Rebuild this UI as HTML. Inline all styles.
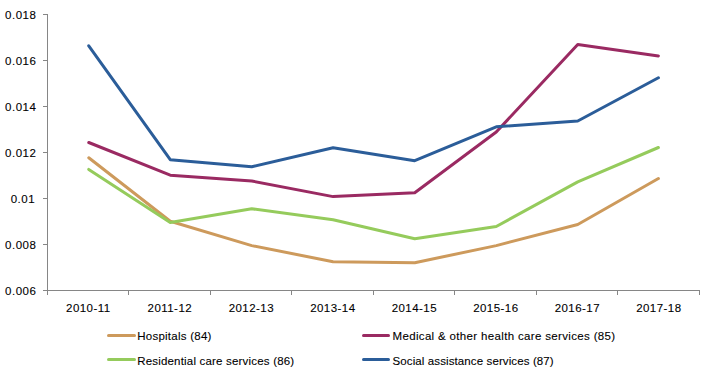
<!DOCTYPE html>
<html><head><meta charset="utf-8"><style>
html,body{margin:0;padding:0;background:#fff;}
body{width:718px;height:378px;position:relative;overflow:hidden;font-family:"Liberation Sans",sans-serif;color:#000;-webkit-text-stroke:0.1px #000;}
svg{position:absolute;left:0;top:0;}
.yl{position:absolute;left:0;width:37.5px;text-align:right;font-size:11.5px;letter-spacing:0.5px;line-height:14px;white-space:nowrap;}
.xl{position:absolute;top:300.6px;width:80px;text-align:center;font-size:11.5px;letter-spacing:0.45px;line-height:14px;white-space:nowrap;}
.lg{position:absolute;font-size:11.5px;line-height:14px;white-space:nowrap;}
</style></head><body>
<svg width="718" height="378" viewBox="0 0 718 378">
<path d="M47.5 14 V295" stroke="#868686" stroke-width="1" fill="none"/>
<path d="M43 14.5 H47.5" stroke="#868686" stroke-width="1"/>
<path d="M43 60.5 H47.5" stroke="#868686" stroke-width="1"/>
<path d="M43 106.5 H47.5" stroke="#868686" stroke-width="1"/>
<path d="M43 152.5 H47.5" stroke="#868686" stroke-width="1"/>
<path d="M43 198.5 H47.5" stroke="#868686" stroke-width="1"/>
<path d="M43 244.5 H47.5" stroke="#868686" stroke-width="1"/>
<path d="M43 290.5 H47.5" stroke="#868686" stroke-width="1"/>
<path d="M43 290.5 H699.5" stroke="#868686" stroke-width="1"/>
<path d="M47.5 290 V295" stroke="#868686" stroke-width="1"/>
<path d="M128.5 290 V295" stroke="#868686" stroke-width="1"/>
<path d="M210.5 290 V295" stroke="#868686" stroke-width="1"/>
<path d="M291.5 290 V295" stroke="#868686" stroke-width="1"/>
<path d="M373.5 290 V295" stroke="#868686" stroke-width="1"/>
<path d="M454.5 290 V295" stroke="#868686" stroke-width="1"/>
<path d="M536.5 290 V295" stroke="#868686" stroke-width="1"/>
<path d="M617.5 290 V295" stroke="#868686" stroke-width="1"/>
<path d="M699.5 290 V295" stroke="#868686" stroke-width="1"/>
<path d="M88.75 157.80 L170.25 221.30 L251.75 245.60 L333.10 261.70 L414.75 262.70 L496.25 245.60 L577.75 224.50 L658.40 178.50" stroke="#CD9A5C" stroke-width="3" fill="none" stroke-linejoin="round" stroke-linecap="round"/>
<path d="M88.75 169.40 L170.25 222.50 L251.75 208.80 L333.10 219.70 L414.75 238.70 L496.25 226.50 L577.75 181.90 L658.40 147.50" stroke="#95CB5C" stroke-width="3" fill="none" stroke-linejoin="round" stroke-linecap="round"/>
<path d="M88.75 142.50 L170.25 175.20 L251.75 181.00 L333.10 196.60 L414.75 192.70 L496.25 132.00 L577.75 44.60 L658.40 55.90" stroke="#9A2A62" stroke-width="3" fill="none" stroke-linejoin="round" stroke-linecap="round"/>
<path d="M88.75 45.80 L170.25 159.70 L251.75 166.80 L333.10 147.70 L414.75 160.70 L496.25 126.80 L577.75 121.00 L658.40 77.80" stroke="#2B5D99" stroke-width="3" fill="none" stroke-linejoin="round" stroke-linecap="round"/>
<path d="M108.5 335.5 H134.5" stroke="#CD9A5C" stroke-width="3" stroke-linecap="round"/>
<path d="M363.5 335.5 H388.5" stroke="#9A2A62" stroke-width="3" stroke-linecap="round"/>
<path d="M108.5 359.5 H134.5" stroke="#95CB5C" stroke-width="3" stroke-linecap="round"/>
<path d="M363.5 359.5 H388.5" stroke="#2B5D99" stroke-width="3" stroke-linecap="round"/>
</svg>
<div class="yl" style="top:8px;width:36.4px">0.018</div>
<div class="yl" style="top:54px;width:36.4px">0.016</div>
<div class="yl" style="top:100px;width:36.4px">0.014</div>
<div class="yl" style="top:146px;width:36.4px">0.012</div>
<div class="yl" style="top:192px;width:35.1px">0.01</div>
<div class="yl" style="top:238px;width:36.4px">0.008</div>
<div class="yl" style="top:284px;width:36.4px">0.006</div>
<div class="xl" style="left:48.35px">2010-11</div>
<div class="xl" style="left:129.85px">2011-12</div>
<div class="xl" style="left:211.35px">2012-13</div>
<div class="xl" style="left:292.85px">2013-14</div>
<div class="xl" style="left:374.35px">2014-15</div>
<div class="xl" style="left:455.85px">2015-16</div>
<div class="xl" style="left:537.35px">2016-17</div>
<div class="xl" style="left:618.85px">2017-18</div>
<div class="lg" style="left:137.2px;top:328.5px;letter-spacing:0.25px">Hospitals (84)</div>
<div class="lg" style="left:392.5px;top:328.5px;letter-spacing:0.34px">Medical &amp; other health care services (85)</div>
<div class="lg" style="left:137.2px;top:354px;letter-spacing:0.19px">Residential care services (86)</div>
<div class="lg" style="left:392.5px;top:354px;letter-spacing:0.11px">Social assistance services (87)</div>
</body></html>
